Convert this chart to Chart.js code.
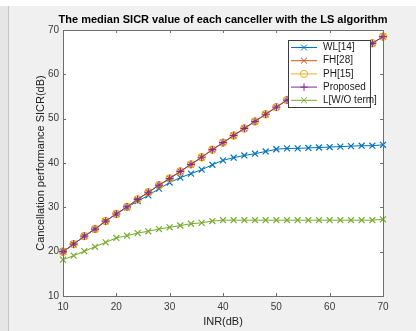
<!DOCTYPE html>
<html>
<head>
<meta charset="utf-8">
<script src="https://cdn.jsdelivr.net/npm/chart.js@4.4.1/dist/chart.umd.min.js"></script>
<style>
  html, body { margin: 0; padding: 0; background: #f0f0f0; }
  #wrap { position: relative; width: 416px; height: 331px; overflow: hidden; }
  #topstrip { position: absolute; left: 0; top: 0; width: 416px; height: 6px; background: #fff; }
  #leftstrip { position: absolute; left: 0; top: 6px; width: 8px; height: 325px; background: #e6e6e6; border-right: 1px solid #c4c4c4; }
  canvas { position: absolute; left: 0; top: 0; }
</style>
</head>
<body>
<div id="wrap">
  <div id="topstrip"></div>
  <div id="leftstrip"></div>
  <canvas id="sicrChart" width="416" height="331"></canvas>
</div>
<script>
// INR (dB) on the x axis
const inr = [10, 12, 14, 16, 18, 20, 22, 24, 26, 28, 30, 32, 34, 36, 38, 40,
  42, 44, 46, 48, 50, 52, 54, 56, 58, 60, 62, 64, 66, 68, 70];

// median SICR (dB)
const wl = [20.0, 21.7, 23.5, 25.1, 26.9, 28.5, 30.0, 31.4, 32.7, 34.2, 35.6, 36.7, 37.6, 38.5, 39.6, 40.6,
  41.2, 41.7, 42.1, 42.6, 43.1, 43.3, 43.3, 43.4, 43.5, 43.6, 43.7, 43.8, 43.9, 43.9, 44.1];
const fh = [20.0, 21.7, 23.5, 25.1, 26.9, 28.5, 30.1, 31.8, 33.4, 35.0, 36.5, 38.1, 39.7, 41.3, 43.0, 44.6,
  46.2, 47.8, 49.4, 51.0, 52.6, 54.2, 55.8, 57.4, 59.0, 60.6, 62.2, 63.8, 65.4, 67.0, 68.5];
const ph = [20.0, 21.7, 23.5, 25.1, 26.9, 28.5, 30.1, 31.8, 33.4, 35.0, 36.5, 38.1, 39.7, 41.3, 43.0, 44.6,
  46.2, 47.8, 49.4, 51.0, 52.6, 54.2, 55.8, 57.4, 59.0, 60.6, 62.2, 63.8, 65.4, 67.0, 68.5];
const proposed = [20.0, 21.7, 23.5, 25.1, 26.9, 28.5, 30.1, 31.8, 33.4, 35.0, 36.5, 38.1, 39.7, 41.3, 43.0, 44.6,
  46.2, 47.8, 49.4, 51.0, 52.6, 54.2, 55.8, 57.4, 59.0, 60.6, 62.2, 63.8, 65.4, 67.0, 68.5];
const lwo = [18.2, 19.1, 20.1, 21.1, 22.1, 23.1, 23.6, 24.2, 24.6, 25.1, 25.5, 25.9, 26.3, 26.5, 26.9, 27.1,
  27.1, 27.1, 27.1, 27.1, 27.1, 27.1, 27.1, 27.1, 27.1, 27.1, 27.1, 27.1, 27.1, 27.1, 27.3];

const seriesNames = ['WL[14]', 'FH[28]', 'PH[15]', 'Proposed', 'L[W/O term]'];
const xTicks = [10, 20, 30, 40, 50, 60, 70];
const yTicks = [10, 20, 30, 40, 50, 60, 70];

const titleText = 'The median SICR value of each canceller with the LS algorithm';
const FONT = '"Liberation Sans", Arial, sans-serif';

function pts(vals) {
  return inr.map((x, i) => ({ x: x, y: vals[i] }));
}

function series(label, vals, color, style, radius, order) {
  return {
    label: label,
    data: pts(vals),
    borderColor: color,
    backgroundColor: color,
    borderWidth: 1,
    pointStyle: style,
    pointRadius: radius,
    pointBorderColor: color,
    pointBackgroundColor: 'rgba(0,0,0,0)',
    pointBorderWidth: 1.2,
    tension: 0,
    clip: false,
    order: order
  };
}

// white plot area, box with inward ticks, title
const axesBox = {
  id: 'axesBox',
  beforeDraw(chart) {
    const { ctx, chartArea: a } = chart;
    ctx.save();
    ctx.fillStyle = '#ffffff';
    ctx.fillRect(a.left, a.top, a.right - a.left, a.bottom - a.top);
    ctx.restore();
  },
  afterDatasetsDraw(chart) {
    const { ctx, chartArea: a, scales } = chart;
    ctx.save();
    ctx.strokeStyle = '#6e6e6e';
    ctx.lineWidth = 1;
    ctx.strokeRect(a.left + 0.5, a.top + 0.5, a.right - a.left, a.bottom - a.top);
    ctx.beginPath();
    xTicks.forEach(v => {
      const px = Math.round(scales.x.getPixelForValue(v)) + 0.5;
      ctx.moveTo(px, a.bottom); ctx.lineTo(px, a.bottom - 3);
      ctx.moveTo(px, a.top); ctx.lineTo(px, a.top + 3);
    });
    yTicks.forEach(v => {
      const py = Math.round(scales.y.getPixelForValue(v)) + 0.5;
      ctx.moveTo(a.left, py); ctx.lineTo(a.left + 3, py);
      ctx.moveTo(a.right, py); ctx.lineTo(a.right - 3, py);
    });
    ctx.stroke();

    ctx.fillStyle = '#000';
    ctx.font = 'bold 11px ' + FONT;
    ctx.textAlign = 'center';
    ctx.textBaseline = 'middle';
    ctx.fillText(titleText, (a.left + a.right) / 2, 20);
    ctx.restore();
  }
};

function drawMarker(ctx, style, x, y, r) {
  ctx.beginPath();
  if (style === 'circle') {
    ctx.arc(x, y, r, 0, Math.PI * 2);
  } else if (style === 'cross') {
    ctx.moveTo(x - r, y); ctx.lineTo(x + r, y);
    ctx.moveTo(x, y - r); ctx.lineTo(x, y + r);
  } else {
    const d = r * Math.SQRT1_2;
    ctx.moveTo(x - d, y - d); ctx.lineTo(x + d, y + d);
    ctx.moveTo(x - d, y + d); ctx.lineTo(x + d, y - d);
  }
  ctx.stroke();
}

// MATLAB style legend box in the upper right of the axes
const boxLegend = {
  id: 'boxLegend',
  afterDraw(chart) {
    const { ctx } = chart;
    const left = 288, top = 40, w = 82, h = 67, rowH = 13.2;
    ctx.save();
    ctx.fillStyle = '#fff';
    ctx.fillRect(left, top, w, h);
    ctx.strokeStyle = '#3c3c3c';
    ctx.lineWidth = 1;
    ctx.strokeRect(left + 0.5, top + 0.5, w, h);
    ctx.font = '10px ' + FONT;
    ctx.textBaseline = 'middle';
    ctx.textAlign = 'left';
    chart.data.datasets.forEach((ds, i) => {
      const y = top + 7.5 + i * rowH;
      ctx.strokeStyle = ds.borderColor;
      ctx.lineWidth = 1;
      ctx.beginPath();
      ctx.moveTo(left + 3, y); ctx.lineTo(left + 29, y);
      ctx.stroke();
      drawMarker(ctx, ds.pointStyle, left + 16, y, ds.pointRadius);
      ctx.fillStyle = '#1a1a1a';
      ctx.fillText(ds.label, left + 35, y);
    });
    ctx.restore();
  }
};

const ctx = document.getElementById('sicrChart').getContext('2d');

new Chart(ctx, {
  type: 'line',
  data: {
    datasets: [
      series(seriesNames[0], wl, '#0072BD', 'crossRot', 4.2, 5),
      series(seriesNames[1], fh, '#D95319', 'crossRot', 4.2, 4),
      series(seriesNames[2], ph, '#EDB120', 'circle', 3.6, 3),
      series(seriesNames[3], proposed, '#7E2F8E', 'cross', 3.8, 2),
      series(seriesNames[4], lwo, '#77AC30', 'crossRot', 4.2, 1)
    ]
  },
  options: {
    responsive: false,
    animation: false,
    layout: { padding: { top: 30, right: 33, bottom: 0, left: 0 } },
    plugins: {
      legend: { display: false },
      title: { display: false },
      tooltip: { enabled: false }
    },
    scales: {
      x: {
        type: 'linear',
        min: 10,
        max: 70,
        afterFit: s => { s.height = 35; },
        afterBuildTicks: s => { s.ticks = xTicks.map(v => ({ value: v })); },
        grid: { drawOnChartArea: false, drawTicks: false },
        border: { display: false },
        ticks: { padding: 5, color: '#3a3a3a', font: { family: FONT, size: 10 } },
        title: {
          display: true,
          text: 'INR(dB)',
          color: '#222',
          font: { family: FONT, size: 11 },
          padding: { top: 0, bottom: 2.5 }
        }
      },
      y: {
        min: 10,
        max: 70,
        afterFit: s => { s.width = 63; },
        afterBuildTicks: s => { s.ticks = yTicks.map(v => ({ value: v })); },
        grid: { drawOnChartArea: false, drawTicks: false },
        border: { display: false },
        ticks: { padding: 4, color: '#3a3a3a', font: { family: FONT, size: 10 } },
        title: {
          display: true,
          text: 'Cancellation performance SICR(dB)',
          color: '#222',
          font: { family: FONT, size: 11 },
          padding: { top: 34.5, bottom: 0 }
        }
      }
    }
  },
  plugins: [axesBox, boxLegend]
});
</script>
</body>
</html>
